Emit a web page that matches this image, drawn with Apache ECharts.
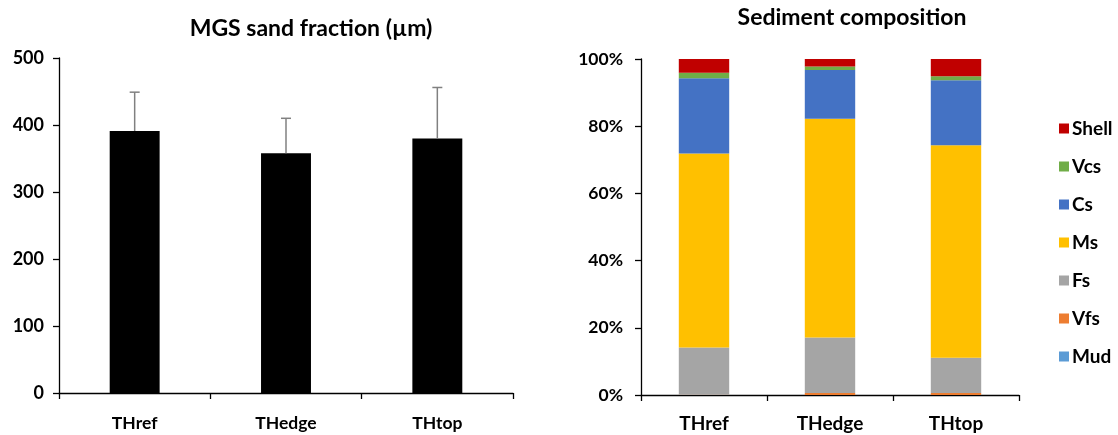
<!DOCTYPE html>
<html>
<head>
<meta charset="utf-8">
<script src="https://cdn.jsdelivr.net/npm/echarts@6/dist/echarts.min.js"></script>
<style>html,body{margin:0;padding:0;background:#fff}#c{width:1118px;height:435px}</style>
</head>
<body>
<div id="c"></div>
<script>
const categories = ['THref', 'THedge', 'THtop'];
const mgsMean = [391, 358, 380];
const mgsErr = [58, 52, 76];
const leftTicks = [0, 100, 200, 300, 400, 500];
const mud = [0, 0, 0];
const vfs = [0.1, 0.6, 0.6];
const fs = [14.0, 16.5, 10.5];
const ms = [57.8, 65.1, 63.2];
const cs = [22.4, 14.5, 19.4];
const vcs = [1.6, 1.1, 1.2];
const shell = [4.1, 2.2, 5.1];
const rightTicks = ['0%', '20%', '40%', '60%', '80%', '100%'];

const FONT = 'Lato, "Open Sans", sans-serif';
const chart = echarts.init(document.getElementById('c'));
const axisLine = {show: true, lineStyle: {color: '#000', width: 1.3}};
const lab = (size, margin, extra) => Object.assign({color: '#000', fontSize: size, fontWeight: 'bold', fontFamily: FONT, margin: margin}, extra || {});
const tick = {show: true, length: 6, lineStyle: {color: '#000', width: 1.3}};

const comp = [
  ['Mud', mud, '#5B9BD5'],
  ['Vfs', vfs, '#ED7D31'],
  ['Fs', fs, '#A5A5A5'],
  ['Ms', ms, '#FFC000'],
  ['Cs', cs, '#4472C4'],
  ['Vcs', vcs, '#70AD47'],
  ['Shell', shell, '#C00000']
];

const series = [
  {
    type: 'bar', xAxisIndex: 0, yAxisIndex: 0, data: mgsMean,
    itemStyle: {color: '#000'}, barCategoryGap: '67%', silent: true
  },
  {
    type: 'custom', xAxisIndex: 0, yAxisIndex: 0,
    data: categories.map((c, i) => [i, mgsMean[i], mgsMean[i] + mgsErr[i]]),
    renderItem: function (params, api) {
      const p0 = api.coord([api.value(0), api.value(1)]);
      const p1 = api.coord([api.value(0), api.value(2)]);
      const st = {stroke: '#808080', lineWidth: 1.5};
      return {type: 'group', children: [
        {type: 'line', shape: {x1: p0[0], y1: p0[1], x2: p1[0], y2: p1[1]}, style: st},
        {type: 'line', shape: {x1: p1[0] - 5, y1: p1[1], x2: p1[0] + 5, y2: p1[1]}, style: st}
      ]};
    },
    z: 5, silent: true
  }
];
comp.forEach(([name, data, color]) => {
  series.push({
    name: name, type: 'bar', stack: 'sed', xAxisIndex: 1, yAxisIndex: 1,
    data: data, itemStyle: {color: color}, barCategoryGap: '60%', silent: true
  });
});

chart.setOption({
  animation: false,
  title: [
    {text: 'MGS sand fraction (\u00b5m)', left: 306, top: 12, textAlign: 'center',
     textStyle: {fontFamily: FONT, fontSize: 23, fontWeight: 'bold', color: '#000'}},
    {text: 'Sediment composition', left: 847, top: 1, textAlign: 'center',
     textStyle: {fontFamily: FONT, fontSize: 23, fontWeight: 'bold', color: '#000'}}
  ],
  legend: {
    orient: 'vertical', left: 1054, top: 114,
    data: ['Shell', 'Vcs', 'Cs', 'Ms', 'Fs', 'Vfs', 'Mud'],
    icon: 'rect', itemWidth: 10, itemHeight: 10, itemGap: 19,
    textStyle: {fontFamily: FONT, fontSize: 19, fontWeight: 'bold', color: '#000', padding: [0, 0, 0, -2]},
    selectedMode: false
  },
  grid: [
    {left: 59, right: 605, top: 58, bottom: 42, containLabel: false},
    {left: 641, right: 99, top: 59, bottom: 40, containLabel: false}
  ],
  xAxis: [
    {type: 'category', gridIndex: 0, data: categories, axisLine: axisLine, axisTick: tick,
     axisLabel: lab(17.5, 21)},
    {type: 'category', gridIndex: 1, data: categories, axisLine: axisLine, axisTick: tick,
     axisLabel: lab(19, 19)}
  ],
  yAxis: [
    {type: 'value', gridIndex: 0, min: leftTicks[0], max: leftTicks[leftTicks.length - 1], interval: 100,
     axisLine: axisLine, axisTick: tick, splitLine: {show: false}, axisLabel: lab(18, 15)},
    {type: 'value', gridIndex: 1, min: 0, max: 100, interval: 20,
     axisLine: axisLine, axisTick: tick, splitLine: {show: false},
     axisLabel: lab(17.5, 18, {formatter: v => rightTicks[Math.round(v / 20)]})}
  ],
  series: series
});
</script>
</body>
</html>
